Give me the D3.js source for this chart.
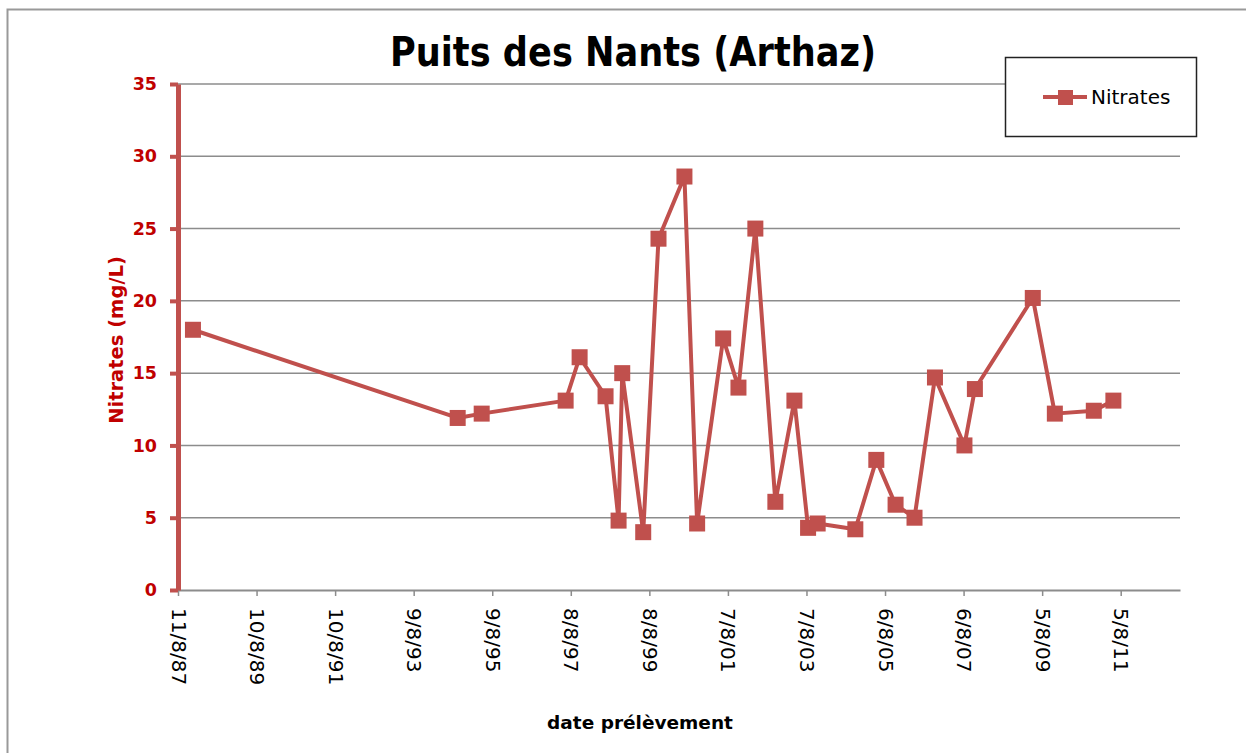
<!DOCTYPE html>
<html>
<head>
<meta charset="utf-8">
<script src="https://cdn.jsdelivr.net/npm/d3@7"></script>
<style>
body { margin: 0; background: #fff; }
text { font-family: "DejaVu Sans", Verdana, sans-serif; }
</style>
</head>
<body>
<script>
// sample dates and nitrate values (mg/L)
const dates = ["1987-12-28","1994-09-22","1995-05-03","1997-06-21","1997-10-29","1998-06-27",
  "1998-10-26","1998-11-29","1999-06-12","1999-11-01","2000-06-29","2000-10-25","2001-06-24",
  "2001-11-13","2002-04-19","2002-10-22","2003-04-17","2003-08-22","2003-11-19","2004-11-03",
  "2005-05-17","2005-11-12","2006-05-07","2006-11-13","2007-08-14","2007-11-19","2009-05-10",
  "2009-12-01","2010-11-28","2011-05-29"]
const nitrates = [18.0,11.9,12.2,13.1,16.1,13.4,4.8,15.0,4.0,24.3,28.6,4.6,17.4,14.0,25.0,
  6.1,13.1,4.3,4.6,4.2,9.0,5.9,5.0,14.7,10.0,13.9,20.2,12.2,12.4,13.1]
const tickDates = ["1987-08-11","1989-08-10","1991-08-10","1993-08-09","1995-08-09","1997-08-08",
  "1999-08-08","2001-08-07","2003-08-07","2005-08-06","2007-08-06","2009-08-05","2011-08-05"]
const tickLabels = ["11/8/87","10/8/89","10/8/91","9/8/93","9/8/95","8/8/97","8/8/99",
  "7/8/01","7/8/03","6/8/05","6/8/07","5/8/09","5/8/11"]
const yTicks = [0,5,10,15,20,25,30,35]

const W = 1246, H = 753
const plot = {left: 178, right: 1180, top: 84, bottom: 590}
const red = "#c0504d"
const parse = d3.utcParse("%Y-%m-%d")

const data = dates.map((d,i)=>({date: parse(d), v: nitrates[i]}))

const svg = d3.select("body").append("svg")
  .attr("width", W).attr("height", H)

// chart area border
svg.append("rect")
  .attr("x", 7.5).attr("y", 9.5)
  .attr("width", W + 20).attr("height", H + 20)
  .attr("fill", "none").attr("stroke", "#999").attr("stroke-width", 2)

const x = d3.scaleUtc()
  .domain([parse("1987-08-11"), parse("2013-02-06")])
  .range([plot.left, plot.right])
const y = d3.scaleLinear().domain([0, 35]).range([plot.bottom, plot.top])

// gridlines
svg.append("g").selectAll("line")
  .data(yTicks.slice(1))
  .enter().append("line")
  .attr("x1", plot.left).attr("x2", plot.right)
  .attr("y1", d=>y(d)).attr("y2", d=>y(d))
  .attr("stroke", "#8c8c8c").attr("stroke-width", 1.5)

// x axis
const xTickVals = tickDates.map(parse)
const xAxis = svg.append("g")
  .attr("transform", `translate(0,${plot.bottom})`)
  .call(d3.axisBottom(x).tickValues(xTickVals).tickSize(6).tickSizeOuter(0)
    .tickFormat((d,i)=>tickLabels[i]))
xAxis.select(".domain").attr("stroke", "#8c8c8c").attr("stroke-width", 2)
xAxis.selectAll(".tick line").attr("stroke", "#8c8c8c").attr("stroke-width", 1.5)
xAxis.selectAll(".tick text")
  .attr("font-size", 20).attr("fill", "#000")
  .attr("text-anchor", "start").attr("dy", "0.35em")
  .attr("transform", "translate(0,18) rotate(90)")
  .attr("x", 0).attr("y", 0)

// y axis
const yAxis = svg.append("g")
  .attr("transform", `translate(${plot.left},0)`)
  .call(d3.axisLeft(y).tickValues(yTicks).tickSize(8).tickSizeOuter(0).tickPadding(13))
yAxis.select(".domain").attr("stroke", red).attr("stroke-width", 5)
yAxis.selectAll(".tick line").attr("stroke", red).attr("stroke-width", 4)
yAxis.selectAll(".tick text")
  .attr("font-size", 17.5).attr("font-weight", "bold").attr("fill", "#c00000")

// series
const line = d3.line().x(d=>x(d.date)).y(d=>y(d.v))
svg.append("path")
  .datum(data)
  .attr("d", line)
  .attr("fill", "none").attr("stroke", red)
  .attr("stroke-width", 4).attr("stroke-linejoin", "round")

const ms = 16
svg.append("g").selectAll("rect")
  .data(data)
  .enter().append("rect")
  .attr("x", d=>x(d.date) - ms/2).attr("y", d=>y(d.v) - ms/2)
  .attr("width", ms).attr("height", ms)
  .attr("fill", red)

// title
svg.append("text")
  .attr("x", 633).attr("y", 66)
  .attr("text-anchor", "middle")
  .attr("font-size", 41).attr("font-weight", "bold")
  .attr("textLength", 486).attr("lengthAdjust", "spacingAndGlyphs")
  .text("Puits des Nants (Arthaz)")

// axis titles
svg.append("text")
  .attr("transform", "translate(123,340) rotate(-90)")
  .attr("text-anchor", "middle")
  .attr("font-size", 19.5).attr("font-weight", "bold").attr("fill", "#c00000")
  .text("Nitrates (mg/L)")

svg.append("text")
  .attr("x", 640).attr("y", 729)
  .attr("text-anchor", "middle")
  .attr("font-size", 18.5).attr("font-weight", "bold")
  .text("date prélèvement")

// legend
const lg = svg.append("g")
lg.append("rect")
  .attr("x", 1005.5).attr("y", 57.5).attr("width", 191).attr("height", 79)
  .attr("fill", "#fff").attr("stroke", "#222").attr("stroke-width", 1.5)
lg.append("line")
  .attr("x1", 1043).attr("x2", 1087).attr("y1", 97).attr("y2", 97)
  .attr("stroke", red).attr("stroke-width", 4)
lg.append("rect")
  .attr("x", 1058).attr("y", 90).attr("width", 15).attr("height", 15)
  .attr("fill", red)
lg.append("text")
  .attr("x", 1091).attr("y", 104)
  .attr("font-size", 20)
  .text("Nitrates")
</script>
</body>
</html>
